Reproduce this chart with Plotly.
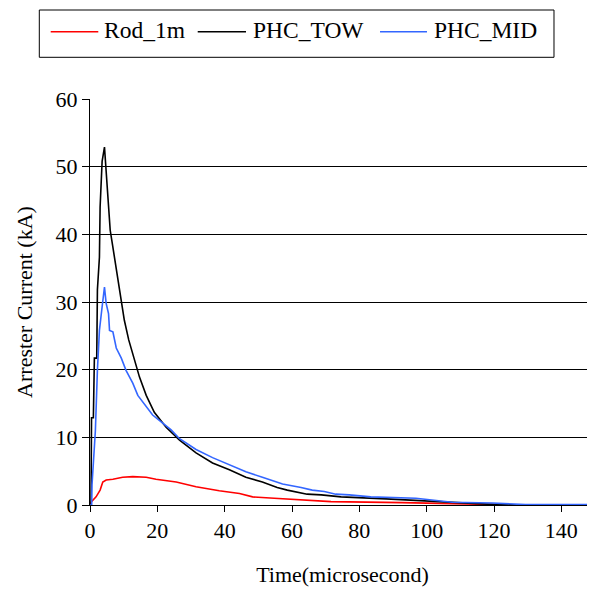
import plotly.graph_objects as go

# time axis (microsecond) and arrester current (kA)
rod_t = [0, 0.3, 1.8, 3.0, 3.8, 4.8, 6.8, 9.7, 12.7, 16.7, 19.6, 25.6, 31.5, 38.4,
         44.4, 48.3, 54.7, 71.6, 92.7, 110.5, 121.5, 150]
rod_i = [0, 0.4, 1.2, 2.2, 3.4, 3.7, 3.8, 4.1, 4.2, 4.1, 3.8, 3.4, 2.7, 2.1,
         1.7, 1.2, 1.0, 0.5, 0.35, 0.15, 0.05, 0]

tow_t = [0, 0.3, 0.45, 1.0, 1.3, 2.0, 2.2, 2.8, 3.0, 3.6, 4.3, 4.6, 5.0, 5.6, 6.0,
         6.7, 7.5, 8.0, 8.8, 9.2, 10.2, 11.5, 13.2, 14.7, 16.7, 19.1, 22.6, 26.6,
         31.5, 36.4, 41.4, 46.3, 51.2, 55.6, 58.6, 62.1, 64.5, 68.7, 74.6, 88,
         98.7, 107, 120.6, 150]
tow_i = [0, 0, 12.9, 12.9, 21.7, 21.7, 31.8, 36.6, 44, 50.8, 52.9, 50.7, 47.3, 44,
         40.6, 38.4, 35.9, 34, 31.8, 30.3, 27.3, 24.4, 21.4, 18.9, 16.2, 13.7, 11.5,
         9.6, 7.7, 6.2, 5.2, 4.1, 3.4, 2.6, 2.2, 1.9, 1.6, 1.5, 1.2, 0.9,
         0.6, 0.35, 0.05, 0]

mid_t = [0, 0.5, 0.6, 1.3, 1.6, 2.2, 2.8, 3.6, 4.3, 4.8, 5.5, 5.8, 6.8, 7.8, 9.3,
         10.7, 12.7, 14.2, 16.2, 18.6, 21.6, 24.1, 26.6, 31.5, 36.4, 41.4, 46.3,
         51.2, 57.2, 62.7, 66, 69.6, 73, 77, 83.4, 96.8, 107.6, 119.5, 129.4, 150]
mid_i = [0, 0, 3, 7.7, 11, 19.9, 25.8, 29.3, 32.2, 29.8, 28.3, 25.8, 25.6, 23.2, 21.7,
         19.9, 18, 16.2, 14.8, 13.3, 12.1, 11.1, 9.8, 8.2, 7.0, 5.9, 4.9,
         4.1, 3.1, 2.6, 2.2, 2.0, 1.6, 1.5, 1.2, 1.0, 0.4, 0.3, 0.05, 0.05]

series_names = ["Rod_1m", "PHC_TOW", "PHC_MID"]
series_colors = ["#ff0000", "#000000", "#3366ff"]

serif = "Liberation Serif"
f22 = dict(family=serif, size=22, color="black")
f_leg = dict(family=serif, size=23.5, color="black")

fig = go.Figure()
for name, col, t, i in zip(series_names, series_colors,
                           [rod_t, tow_t, mid_t], [rod_i, tow_i, mid_i]):
    fig.add_trace(go.Scatter(x=t, y=i, name=name, mode="lines",
                             line=dict(color=col, width=1.6)))

# legend drawn by hand so line samples and spacing match the original box
# (page body has an 8px margin, so the figure is sized 8px smaller)
fig.add_shape(type="rect", xref="paper", yref="paper",
              x0=-0.1004, x1=0.9188, y0=1.1027, y1=1.2192,
              line=dict(color="black", width=1), fillcolor="rgba(0,0,0,0)")
leg_line_x = [(-0.0778, 0.0164), (0.2133, 0.3089), (0.5743, 0.6673)]
leg_text_x = [0.0238, 0.3182, 0.6772]
for name, col, (a, b), tx in zip(series_names, series_colors, leg_line_x, leg_text_x):
    fig.add_shape(type="line", xref="paper", yref="paper", x0=a, x1=b,
                  y0=1.1658, y1=1.1658, line=dict(color=col, width=1.6))
    fig.add_annotation(text=name, xref="paper", yref="paper", x=tx, y=1.170,
                       xanchor="left", yanchor="middle", showarrow=False, font=f_leg)

fig.update_layout(
    template="none",
    width=587, height=583,
    margin=dict(l=82, r=0, t=91, b=86),
    paper_bgcolor="white", plot_bgcolor="white",
    font=f22,
    showlegend=False,
    xaxis=dict(range=[0, 150], dtick=20, showgrid=False, zeroline=False,
               showline=True, linecolor="black", linewidth=1,
               ticks="outside", ticklen=6, tickcolor="black", tickwidth=1,
               tickfont=f22,
               title=dict(text="Time(microsecond)", standoff=24, font=f22)),
    yaxis=dict(range=[0, 60], dtick=10, showgrid=True, gridcolor="black",
               gridwidth=1, zeroline=False, showline=True, linecolor="black",
               linewidth=1, ticks="outside", ticklen=7, tickcolor="black", tickwidth=1,
               tickfont=f22,
               title=dict(text="Arrester Current (kA)", standoff=16, font=f22)),
)

fig.write_html("out.html")
